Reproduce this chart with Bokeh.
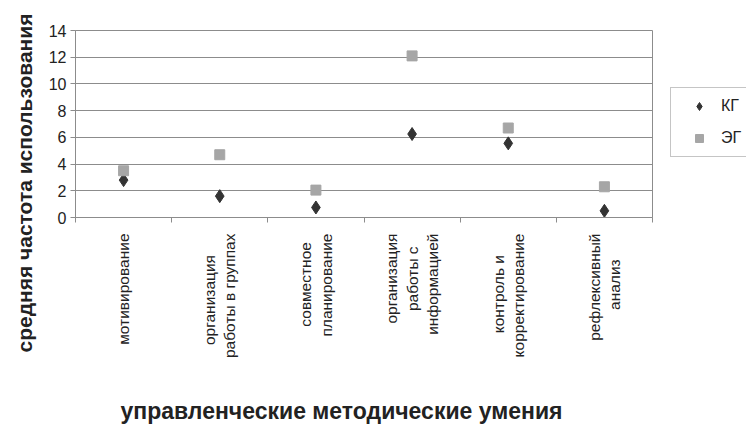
import math
from bokeh.plotting import figure
from bokeh.models import (Range1d, FixedTicker, Legend, LegendItem, Title,
                          ColumnDataSource)
from bokeh.embed import file_html
from bokeh.resources import INLINE

# ---- data ----
categories = ["мотивирование",
              "организация\nработы в группах",
              "совместное\nпланирование",
              "организация\nработы с\nинформацией",
              "контроль и\nкорректирование",
              "рефлексивный\nанализ"]
kg_values = [2.8, 1.6, 0.75, 6.25, 5.55, 0.5]
eg_values = [3.5, 4.7, 2.05, 12.1, 6.7, 2.3]
series_names = ["КГ", "ЭГ"]
y_ticks = [0, 2, 4, 6, 8, 10, 12, 14]
y_title = "средняя частота использования"
x_title = "управленческие методические умения"

FONT = "Liberation Sans"
GRID = "#8c8c8c"
TEXT = "#222222"


def centre_lines(label):
    # Bokeh right-aligns the lines of a rotated tick label; pad the shorter
    # lines with trailing no-break spaces so they appear centred.
    lines = label.split("\n")
    longest = max(len(s) for s in lines)
    return "\n".join(s + "\u00a0" * round((longest - len(s)) * 0.95)
                     for s in lines)


positions = [i + 0.5 for i in range(len(categories))]
boundaries = list(range(len(categories) + 1))

src = ColumnDataSource(dict(x=positions, kg=kg_values, eg=eg_values))

p = figure(frame_width=577, frame_height=187, output_backend="svg",
           toolbar_location=None,
           x_range=Range1d(0, len(categories)), y_range=Range1d(0, 14),
           min_border_left=73, min_border_right=96, min_border_top=30,
           min_border_bottom=215)
p.background_fill_color = "white"
p.border_fill_color = "white"
p.outline_line_color = GRID
p.outline_line_width = 1

# grid
p.xgrid.grid_line_color = None
p.ygrid.ticker = FixedTicker(ticks=y_ticks)
p.ygrid.grid_line_color = GRID
p.ygrid.grid_line_width = 1

# y axis
p.yaxis.ticker = FixedTicker(ticks=y_ticks)
p.yaxis.axis_line_color = GRID
p.yaxis.major_tick_line_color = GRID
p.yaxis.major_tick_out = 5
p.yaxis.major_tick_in = 0
p.yaxis.minor_tick_line_color = None
p.yaxis.major_label_text_font = FONT
p.yaxis.major_label_text_font_size = "16px"
p.yaxis.major_label_text_color = TEXT
p.yaxis.major_label_standoff = 4

# x axis
p.xaxis.ticker = FixedTicker(ticks=positions, minor_ticks=boundaries)
p.xaxis.major_label_overrides = {pos: centre_lines(lab)
                                 for pos, lab in zip(positions, categories)}
p.xaxis.major_label_orientation = math.pi / 2
p.xaxis.major_tick_line_color = None
p.xaxis.major_tick_out = 0
p.xaxis.major_tick_in = 0
p.xaxis.minor_tick_line_color = GRID
p.xaxis.minor_tick_out = 5
p.xaxis.minor_tick_in = 0
p.xaxis.axis_line_color = GRID
p.xaxis.major_label_text_font = FONT
p.xaxis.major_label_text_font_size = "15.5px"
p.xaxis.major_label_text_color = TEXT
p.xaxis.major_label_standoff = 11

# markers
r_kg = p.scatter("x", "kg", source=src, marker="diamond", size=13,
                 fill_color="#333333", line_color="#333333")
r_eg = p.scatter("x", "eg", source=src, marker="square", size=10,
                 fill_color="#a6a6a6", line_color="#a6a6a6")

legend = Legend(items=[LegendItem(label=series_names[0], renderers=[r_kg]),
                       LegendItem(label=series_names[1], renderers=[r_eg])],
                location=(18, 60), margin=0, padding=8, spacing=12,
                glyph_width=40, glyph_height=20, label_height=20,
                label_standoff=2,
                label_text_font=FONT, label_text_font_size="16px",
                label_text_color=TEXT,
                border_line_color=GRID, border_line_width=1,
                background_fill_color="white")
p.add_layout(legend, "right")

p.add_layout(Title(text=y_title, align="left", offset=-135, standoff=20,
                   text_font=FONT, text_font_style="bold",
                   text_font_size="21px", text_color=TEXT), "left")
p.add_layout(Title(text=x_title, align="left", offset=45, standoff=70,
                   text_font=FONT, text_font_style="bold",
                   text_font_size="23px", text_color=TEXT), "below")

open("out.html", "w").write(file_html(p, INLINE))
